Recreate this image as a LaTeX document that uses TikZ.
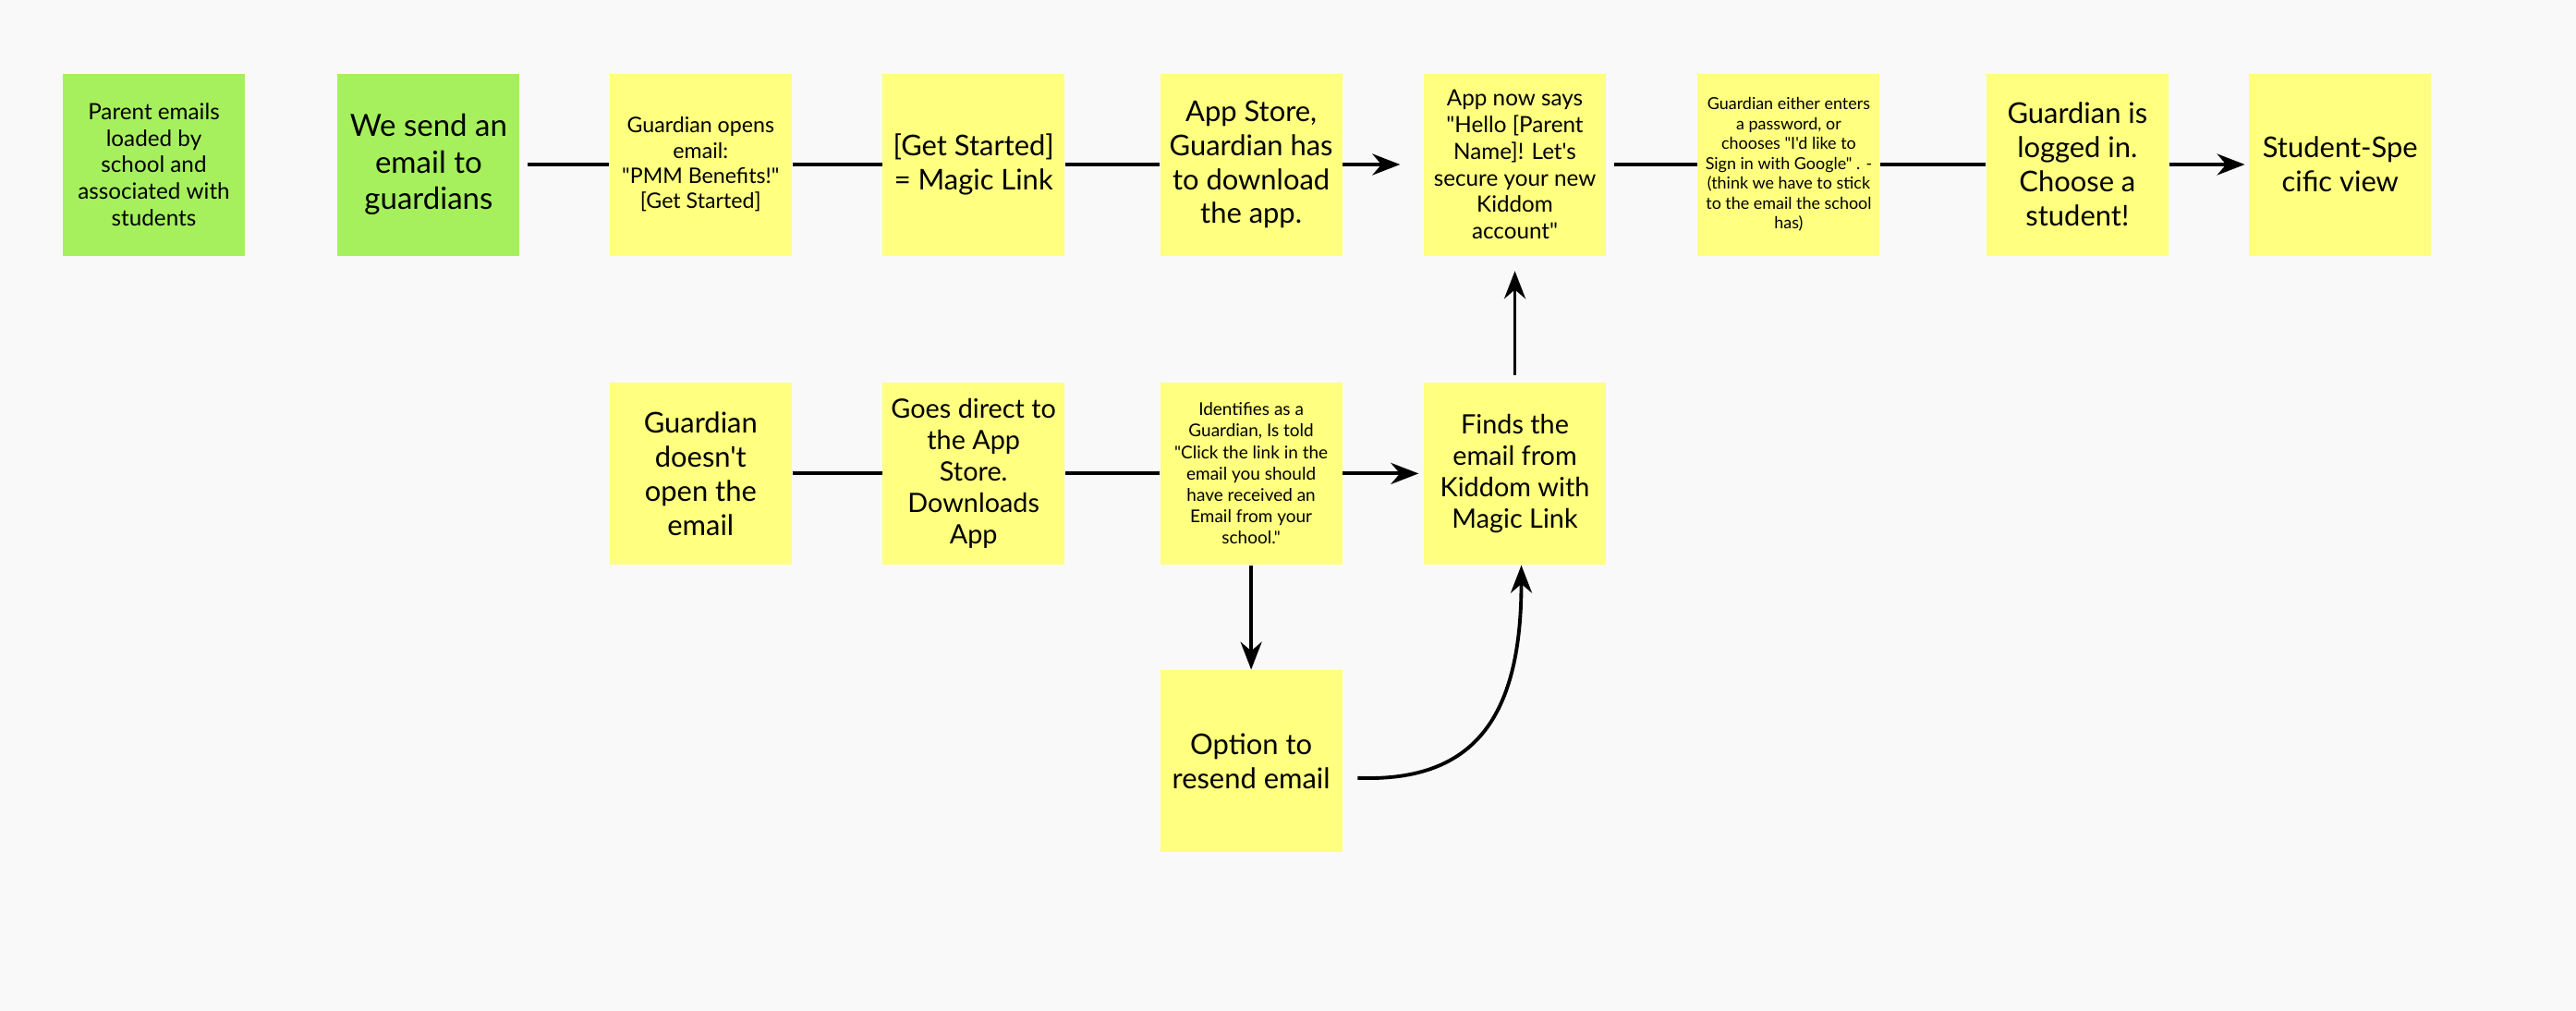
\documentclass[tikz,border=0pt]{standalone}
\usepackage{fontspec}
\setmainfont{Lato}[Ligatures=TeXOff]
\usepackage{xcolor}
\usepackage{tikz}
\usetikzlibrary{arrows.meta,positioning}
\definecolor{boardgray}{RGB}{249,249,249}
\definecolor{notegreen}{RGB}{166,240,94}
\definecolor{noteyellow}{RGB}{255,255,128}
\tikzset{
  note/.style={rectangle, fill=noteyellow, inner sep=0pt,
    minimum width=1.97cm, minimum height=1.97cm, align=center},
  greennote/.style={note, fill=notegreen},
  hugetext/.style={font=\fontsize{9.4}{11.2}\selectfont},
  bigtext/.style={font=\fontsize{8.8}{10.5}\selectfont},
  midtext/.style={font=\fontsize{8.2}{9.7}\selectfont},
  smalltext/.style={font=\fontsize{6.9}{8.2}\selectfont},
  tinytext/.style={font=\fontsize{5.1}{6.1}\selectfont},
  flow/.style={-{Stealth[length=3mm, width=2.3mm]}, line width=1.1pt},
  link/.style={line width=1.1pt}
}

\begin{document}
\begin{tikzpicture}[node distance=1cm]
\fill[boardgray] (0,0) rectangle (27.88,-10.94);
\useasboundingbox (0,0) rectangle (27.88,-10.94);

% top row
\node[greennote, smalltext] (loaded) at (1.665,-1.78) {Parent emails\\loaded by\\school and\\associated with\\students};
\node[greennote, hugetext, right=0.99cm of loaded] (send) {We send an\\email to\\guardians};
\node[note, font=\fontsize{6.6}{7.8}\selectfont, right=0.96cm of send] (opens) {Guardian opens\\email:\\"PMM Benefits!"\\{[Get Started]}};
\node[note, bigtext, right=0.97cm of opens] (magic) {{[Get Started]}\\= Magic Link};
\node[note, bigtext, right=1.02cm of magic] (store) {App Store,\\Guardian has\\to download\\the app.};
\node[note, smalltext, right=0.87cm of store] (hello) {App now says\\"Hello [Parent\\Name]! Let's\\secure your new\\Kiddom\\account"};
\node[note, tinytext, right=0.98cm of hello] (password) {Guardian either enters\\a password, or\\chooses "I'd like to\\Sign in with Google" . -\\(think we have to stick\\to the email the school\\has)};
\node[note, bigtext, right=1.14cm of password] (loggedin) {Guardian is\\logged in.\\Choose a\\student!};
\node[note, bigtext, right=0.86cm of loggedin] (specific) {Student-Spe\\cific view};

% second row
\node[note, bigtext, below=1.36cm of opens] (noopen) {Guardian\\doesn't\\open the\\email};
\node[note, midtext, below=1.36cm of magic] (direct) {Goes direct to\\the App\\Store.\\Downloads\\App};
\node[note, tinytext, font=\fontsize{5.4}{6.6}\selectfont, below=1.36cm of store] (identifies) {Identifies as a\\Guardian, Is told\\"Click the link in the\\email you should\\have received an\\Email from your\\school."};
\node[note, midtext, below=1.36cm of hello] (finds) {Finds the\\email from\\Kiddom with\\Magic Link};
\node[note, bigtext, below=1.13cm of identifies] (resend) {Option to\\resend email};

\draw[link] ([xshift=0.08cm]send.east) -- (opens);
\draw[link] (opens) -- (magic);
\draw[link] (magic) -- (store);
\draw[flow, shorten >=0.25cm] (store) -- (hello);
\draw[link] ([xshift=0.08cm]hello.east) -- (password);
\draw[link] (password) -- (loggedin);
\draw[flow, shorten >=0.04cm] (loggedin) -- (specific);

\draw[link] (noopen) -- (direct);
\draw[link] (direct) -- (identifies);
\draw[flow, shorten >=0.05cm] (identifies) -- (finds);
\draw[flow, shorten <=0.07cm, shorten >=0.16cm] (finds) -- (hello);
\draw[flow] (identifies) -- (resend);
\draw[flow] ([xshift=0.16cm, yshift=-0.18cm]resend.east) .. controls +(1.3,-0.05) and +(0,-1.6) .. ([xshift=0.07cm]finds.south);
\end{tikzpicture}
\end{document}
